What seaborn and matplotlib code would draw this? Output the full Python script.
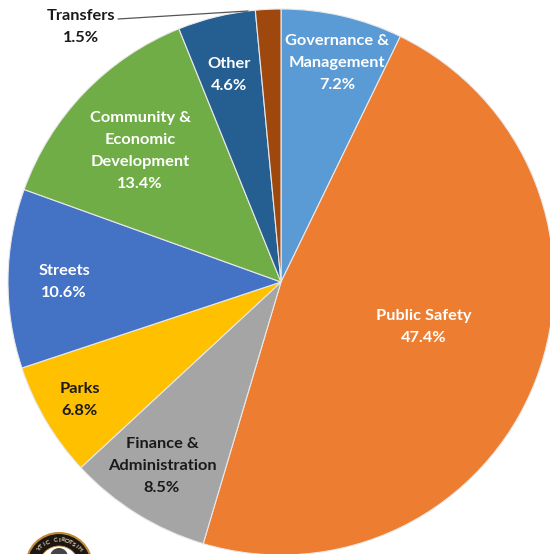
import matplotlib
matplotlib.use("Agg")
import numpy as np
import matplotlib.pyplot as plt
import seaborn as sns
from matplotlib.patches import Circle

categories = ["Governance & Management", "Public Safety", "Finance & Administration", "Parks",
              "Streets", "Community & Economic Development", "Other", "Transfers"]
shares = [7.2, 47.4, 8.5, 6.8, 10.6, 13.4, 4.6, 1.5]
colors = ["#5B9BD5", "#ED7D31", "#A5A5A5", "#FFC000", "#4472C4", "#70AD47", "#255E91", "#9E480E"]

label_lines = ["Governance &\nManagement\n7.2%", "Public Safety\n47.4%", "Finance &\nAdministration\n8.5%",
               "Parks\n6.8%", "Streets\n10.6%", "Community &\nEconomic\nDevelopment\n13.4%",
               "Other\n4.6%", "Transfers\n1.5%"]
label_colors = ["white", "white", "#1a1a1a", "#1a1a1a", "white", "white", "white", "#1a1a1a"]
label_x = [337, 424, 162, 80, 64, 140, 229, 81]
label_y = [63, 327, 466, 400, 282, 151, 75, 27]
seal_text = "HISTORIC CITY"

sns.set_theme(style="white")
plt.rcParams["font.family"] = ["Lato", "DejaVu Sans"]

fig = plt.figure(figsize=(5.5, 5.54), dpi=100)
ax = fig.add_axes([0, 0, 1, 1])
ax.pie(shares, colors=colors, startangle=90, counterclock=False,
       center=(281, 554 - 282), radius=273, frame=True,
       wedgeprops=dict(edgecolor="#e8e8e8", linewidth=0.8))
ax.set_xlim(0, 550)
ax.set_ylim(0, 554)
ax.set_aspect("equal")
ax.axis("off")

for text, color, x, y in zip(label_lines, label_colors, label_x, label_y):
    ax.text(x, 554 - y, text, color=color, ha="center", va="center",
            fontsize=11.8, fontweight="bold", linespacing=1.7)

ax.plot([118, 248], [554 - 19, 554 - 11], color="#555555", lw=0.9)

seal_x, seal_y = 59, 554 - 566
ax.add_patch(Circle((seal_x, seal_y), 33, facecolor="#1c1712", edgecolor="#c08a3a", lw=1.5))
ax.add_patch(Circle((seal_x, seal_y), 20, facecolor="white", edgecolor="#c08a3a", lw=0.6))
ax.add_patch(Circle((seal_x, seal_y + 9), 9, facecolor="#444444", edgecolor="none"))
for ch, ang in zip(seal_text, np.linspace(50, -50, len(seal_text))):
    a = np.deg2rad(ang)
    ax.text(seal_x + 26 * np.sin(a), seal_y + 26 * np.cos(a), ch, color="#e8d8b0",
            fontsize=4.6, fontweight="bold", rotation=-ang, ha="center", va="center")

fig.savefig("out.png", dpi=100)
